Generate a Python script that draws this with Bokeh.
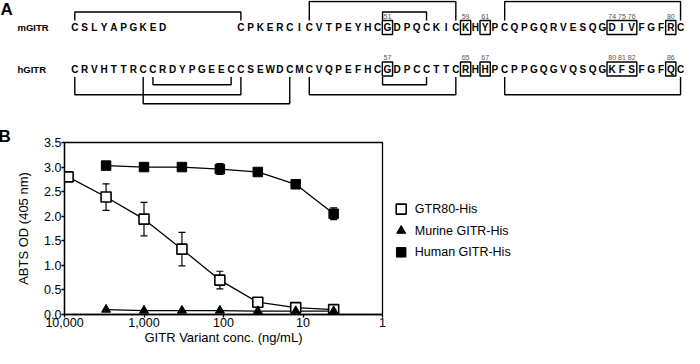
from bokeh.plotting import figure
from bokeh.models import (Range1d, ColumnDataSource, Whisker, Title, FixedTicker,
                          NumeralTickFormatter, TeeHead)
from bokeh.layouts import row
from bokeh.embed import file_html
from bokeh.resources import INLINE
from bokeh.core.properties import value

# ---------------- Panel A data ----------------
h_seq = "CRVHTTRCCRDYPGEECCSEWDCMCVQPEFHCGDPCCTTCRHHPCPPGQGVQSQGKFSFGFQC"
m_seq = "CSLYAPGKED" + " " * 7 + "CPKERCICVTPEYHCGDPQCKICKHYPCQPGQRVESQGDIVFGFRC"
box_start = [33, 41, 43, 56, 62]
box_end = [33, 41, 43, 58, 62]
number_cols = [33, 41, 43, 56, 57, 58, 62]
m_numbers = ["51", "59", "61", "74", "75", "76", "80"]
h_numbers = ["57", "65", "67", "80", "81", "82", "86"]
m_bond_from = [1, 25, 32.5, 45]
m_bond_to = [18, 40, 37, 63]
m_bond_level = [1, 2, 1, 2]
h_bond_from = [1, 8, 9, 25, 32.5, 45]
h_bond_to = [18, 23, 17, 40, 37, 63]
h_bond_level = [2, 3, 1, 2, 1, 2]

# ---------------- Panel B data ----------------
conc = [9000, 3000, 1000, 333.3, 111.1, 37.04, 12.35, 4.115]
gtr80 = [2.80, 2.39, 1.94, 1.33, 0.70, 0.25, 0.14, 0.10]
gtr80_err = [0, 0.27, 0.34, 0.34, 0.18, 0, 0, 0]
murine_conc = [3000, 1000, 333.3, 111.1, 37.04, 12.35, 4.115]
murine = [0.10, 0.08, 0.08, 0.08, 0.07, 0.07, 0.07]
human_conc = [3000, 1000, 333.3, 111.1, 37.04, 12.35, 4.115]
human = [3.03, 3.00, 3.00, 2.96, 2.90, 2.65, 2.05]
human_err = [0, 0, 0, 0.11, 0, 0, 0.12]
series_labels = ["GTR80-His", "Murine GITR-His", "Human GITR-His"]
x_ticks = [10000, 1000, 100, 10, 1]
y_ticks = [0, 0.5, 1.0, 1.5, 2.0, 2.5, 3.0, 3.5]

FONT = value("Liberation Sans")

# ================= Panel A =================
COL_W = 9.77
X0 = 1 - 74.3 / COL_W
H_A = 106
pA = figure(width=684, height=H_A, x_range=Range1d(X0, X0 + 684 / COL_W),
            y_range=Range1d(H_A, 0), output_backend="svg", toolbar_location=None,
            x_axis_location=None, y_axis_location=None, min_border=0)
pA.grid.visible = False
pA.outline_line_color = None

ROW_Y = {"m": 27, "h": 68.5}
NUM_Y = {"m": 15.5, "h": 57}


def letters(seq):
    xs, ts = [], []
    for i, ch in enumerate(seq):
        if ch != " ":
            xs.append(i + 1)
            ts.append(ch)
    return xs, ts


for key, seq in (("m", m_seq), ("h", h_seq)):
    xs, ts = letters(seq)
    pA.text(x=xs, y=[ROW_Y[key]] * len(xs), text=ts, text_align="center",
            text_baseline="middle", text_font=FONT, text_font_style="bold",
            text_font_size="10px", text_color="black")
    bx = [(a + b) / 2 for a, b in zip(box_start, box_end)]
    bw = [b - a + 1.05 for a, b in zip(box_start, box_end)]
    pA.rect(x=bx, y=[ROW_Y[key]] * len(bx), width=bw, height=[14] * len(bx),
            fill_color=None, line_color="black", line_width=1.4)
    nums = m_numbers if key == "m" else h_numbers
    pA.text(x=number_cols, y=[NUM_Y[key]] * len(nums), text=nums, text_align="center",
            text_baseline="middle", text_font=FONT, text_font_size="7px",
            text_color="#555555")

# row labels and panel letter
pA.text(x=[X0 + 17 / COL_W] * 2, y=[ROW_Y["m"], ROW_Y["h"]], text=["mGITR", "hGITR"],
        text_align="left", text_baseline="middle", text_font=FONT,
        text_font_style="bold", text_font_size="9.5px", text_color="black")
pA.text(x=[X0], y=[9], text=["A"], text_align="left", text_baseline="middle",
        text_font=FONT, text_font_style="bold", text_font_size="17px", text_color="black")

# disulfide brackets
m_level_y = {1: 11.5, 2: 1.0}
h_level_y = {1: 84.3, 2: 94.3, 3: 103.3}
mxs, mys = [], []
for a, b, lv in zip(m_bond_from, m_bond_to, m_bond_level):
    mxs.append([a, a, b, b])
    mys.append([20, m_level_y[lv], m_level_y[lv], 20])
for a, b, lv in zip(h_bond_from, h_bond_to, h_bond_level):
    mxs.append([a, a, b, b])
    mys.append([76.5, h_level_y[lv], h_level_y[lv], 76.5])
pA.multi_line(xs=mxs, ys=mys, line_color="black", line_width=1.4)

# ================= Panel B =================
TOP, BOTTOM = 36, 34
H_B = 348 - H_A
pB = figure(width=390, height=H_B, x_axis_type="log", x_range=Range1d(10000, 1),
            y_range=Range1d(0, 3.5), output_backend="svg", toolbar_location=None,
            min_border_left=64, min_border_right=8, min_border_top=TOP,
            min_border_bottom=BOTTOM)
pB.grid.visible = False
pB.outline_line_color = "black"
pB.outline_line_width = 1.3
pB.outline_line_alpha = 1

pB.xaxis.ticker = FixedTicker(ticks=x_ticks)
pB.xaxis.formatter = NumeralTickFormatter(format="0,0")
pB.yaxis.ticker = FixedTicker(ticks=y_ticks)
pB.yaxis.formatter = NumeralTickFormatter(format="0.0")
for ax in (pB.xaxis, pB.yaxis):
    ax.minor_tick_line_color = None
    ax.major_tick_in = 0
    ax.major_tick_out = 3
    ax.major_label_standoff = 0
    ax.axis_line_width = 1.3
    ax.major_tick_line_width = 1.3
    ax.major_label_text_font = "Liberation Sans"
    ax.major_label_text_font_size = "12.5px"
    ax.major_label_text_color = "black"
    ax.axis_label_text_font = "Liberation Sans"
    ax.axis_label_text_font_size = "13px"
    ax.axis_label_text_font_style = "normal"
    ax.axis_label_text_color = "black"
pB.xaxis.axis_label = "GITR Variant conc. (ng/mL)"
pB.yaxis.axis_label = "ABTS OD (405 nm)"
pB.xaxis.axis_label_standoff = 0
pB.yaxis.axis_label_standoff = 10

# error bars
g_src = ColumnDataSource(dict(
    x=[c for c, e in zip(conc, gtr80_err) if e > 0],
    upper=[v + e for v, e in zip(gtr80, gtr80_err) if e > 0],
    lower=[v - e for v, e in zip(gtr80, gtr80_err) if e > 0]))
h_src = ColumnDataSource(dict(
    x=[c for c, e in zip(human_conc, human_err) if e > 0],
    upper=[v + e for v, e in zip(human, human_err) if e > 0],
    lower=[v - e for v, e in zip(human, human_err) if e > 0]))
for src in (g_src, h_src):
    w = Whisker(source=src, base="x", upper="upper", lower="lower", dimension="height",
                line_color="black", line_width=1.2,
                upper_head=TeeHead(size=7, line_color="black", line_width=1.2),
                lower_head=TeeHead(size=7, line_color="black", line_width=1.2))
    pB.add_layout(w)

pB.line(conc, gtr80, line_color="black", line_width=1.3)
pB.line(murine_conc, murine, line_color="black", line_width=1.3)
pB.line(human_conc, human, line_color="black", line_width=1.3)

STYLES = [dict(marker="square", size=10, fill_color="white", line_width=1.6),
          dict(marker="triangle", size=9, fill_color="black", line_width=1),
          dict(marker="square", size=9.5, fill_color="black", line_width=1)]
for (xs_, ys_), st in zip([(conc, gtr80), (murine_conc, murine), (human_conc, human)], STYLES):
    pB.scatter(xs_, ys_, line_color="black", **st)

pB.add_layout(Title(text="B", align="left", offset=-66, standoff=-7,
                    text_font="Liberation Sans", text_font_style="bold",
                    text_font_size="17px", text_color="black"), "above")

# ---- legend panel (to the right of the plot box, frames aligned) ----
W_L = 684 - 390
pL = figure(width=W_L, height=H_B, x_range=Range1d(0, W_L), y_range=pB.y_range,
            output_backend="svg", toolbar_location=None, x_axis_location=None,
            y_axis_location=None, min_border_left=0, min_border_right=0,
            min_border_top=TOP, min_border_bottom=BOTTOM)
pL.grid.visible = False
pL.outline_line_color = None
LEG_Y0, LEG_DY = 2.145, 0.44
for i, (lab, st) in enumerate(zip(series_labels, STYLES)):
    yy = LEG_Y0 - i * LEG_DY
    pL.scatter([10.7], [yy], line_color="black", **st)
    pL.text(x=[24.3], y=[yy], text=[lab], text_align="left", text_baseline="middle",
            text_font=FONT, text_font_size="12.5px", text_color="black")

open("out.html", "w").write(file_html([pA, row(pB, pL)], INLINE))
